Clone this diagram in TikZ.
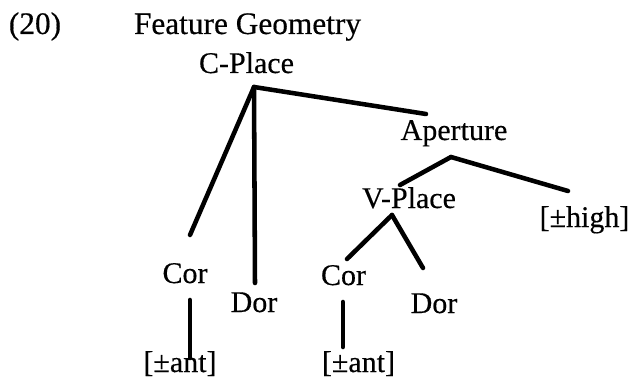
\documentclass[tikz,border=0pt]{standalone}
\usepackage{fontspec}
\setmainfont{Liberation Serif}
\newfontfamily\scanfont{Liberation Serif}[FakeBold=0.4]
\begin{document}
\begin{tikzpicture}[x=0.75pt,y=-0.75pt,
  lbl/.style={anchor=base,inner sep=0pt,font=\scanfont\fontsize{22.5}{27}\selectfont},
  ttl/.style={anchor=base,inner sep=0pt,font=\scanfont\fontsize{23.5}{28}\selectfont},
  branch/.style={line width=3.4pt,line cap=round}]
\useasboundingbox (0,0) rectangle (636,385);
% title
\node[ttl] (num) at (35,34) {(20)};
\node[ttl] (title) at (247.5,34) {Feature Geometry};
% labels
\node[lbl] (cplace) at (246.5,73) {C-Place};
\node[lbl] (aperture) at (454,140) {Aperture};
\node[lbl] (vplace) at (409,208) {V-Place};
\node[lbl] (high) at (584.5,227) {[±high]};
\node[lbl] (cor1) at (185,283) {Cor};
\node[lbl] (dor1) at (254,312) {Dor};
\node[lbl] (cor2) at (343.5,285) {Cor};
\node[lbl] (dor2) at (434,313) {Dor};
\node[lbl] (ant1) at (180,372) {[±ant]};
\node[lbl] (ant2) at (358.5,372) {[±ant]};
% connector end points
\coordinate (cpB) at (254,87);
\coordinate (cpCor) at (190,235);
\coordinate (cpDor) at (255,283);
\coordinate (cpAp) at (426,114);
\coordinate (apB) at (451,157);
\coordinate (apV) at (400,185);
\coordinate (apH) at (568,191);
\coordinate (vpB) at (392,215);
\coordinate (vpCor) at (347,259);
\coordinate (vpDor) at (423,268);
\coordinate (c1T) at (190,300);
\coordinate (c1B) at (190,358);
\coordinate (c2T) at (343,302);
\coordinate (c2B) at (343,347);
% connectors
\draw[branch] (cpB) -- (cpCor);
\draw[branch] (cpB) -- (cpDor);
\draw[branch] (cpB) -- (cpAp);
\draw[branch] (apB) -- (apV);
\draw[branch] (apB) -- (apH);
\draw[branch] (vpB) -- (vpCor);
\draw[branch] (vpB) -- (vpDor);
\draw[branch] (c1T) -- (c1B);
\draw[branch] (c2T) -- (c2B);
\end{tikzpicture}
\end{document}
